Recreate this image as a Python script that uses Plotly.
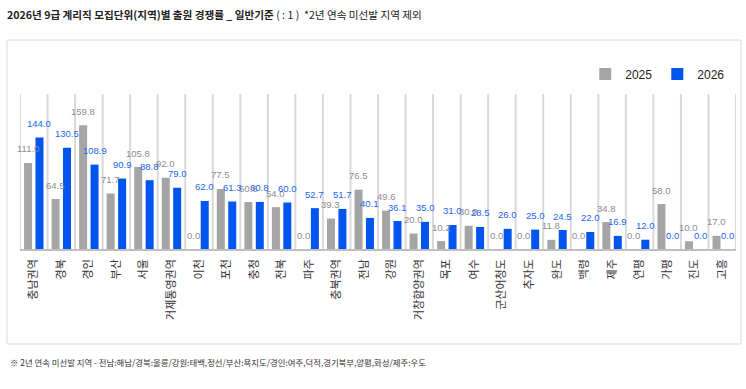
import plotly.graph_objects as go

categories = ["충남권역", "경북", "경인", "부산", "서울", "거제통영권역", "이천", "포천", "충청", "전북",
              "파주", "충북권역", "전남", "강원", "거창함양권역", "목포", "여수", "군산어청도", "추자도", "완도",
              "백령", "제주", "연평", "가평", "진도", "고흥"]
rate_2025 = [111.0, 64.5, 159.8, 71.7, 105.8, 92.0, 0.0, 77.5, 60.6, 54.0,
             0.0, 39.3, 76.5, 49.6, 20.0, 10.2, 30.0, 0.0, 0.0, 11.8,
             0.0, 34.8, 0.0, 58.0, 10.0, 17.0]
rate_2026 = [144.0, 130.5, 108.9, 90.9, 88.8, 79.0, 62.0, 61.3, 60.8, 60.0,
             52.7, 51.7, 40.1, 36.1, 35.0, 31.0, 28.5, 26.0, 25.0, 24.5,
             22.0, 16.9, 12.0, 0.0, 0.0, 0.0]
series_names = ["2025", "2026"]

GRAY = "#a5a5a5"
BLUE = "#0055ee"
KR = "Noto Sans CJK KR"
Y_MAX = 200

fig = go.Figure()
fig.add_trace(go.Bar(x=categories, y=rate_2025, name=series_names[0], marker_color=GRAY,
                     marker_line_width=0))
fig.add_trace(go.Bar(x=categories, y=rate_2026, name=series_names[1], marker_color=BLUE,
                     marker_line_width=0))

annotations = []
for cat, v in zip(categories, rate_2025):
    annotations.append(dict(x=cat, y=v, xref="x", yref="y", text=f"{v:.1f}", showarrow=False,
                            xshift=-5.7, yshift=14, yanchor="middle",
                            font=dict(family="Liberation Sans", size=9.5, color="#8c8c8c")))
for cat, v in zip(categories, rate_2026):
    annotations.append(dict(x=cat, y=v, xref="x", yref="y", text=f"{v:.1f}", showarrow=False,
                            xshift=5.7, yshift=14, yanchor="middle",
                            font=dict(family="Liberation Sans", size=9.5, color="#1a66f0")))

annotations.append(dict(xref="paper", yref="paper", x=-0.0165, y=-0.729, xanchor="left", yanchor="middle",
                        showarrow=False,
                        text="※ 2년 연속 미선발 지역 - 전남:해남/경북:울릉/강원:태백,정선/부산:욕지도/경인:여주,덕적,경기북부,양평,화성/제주:우도",
                        font=dict(family=KR, size=8.4, color="#333333")))

# category boundary grid lines (drawn on the axis scales)
shapes = [dict(type="line", xref="x", yref="y", x0=i - 0.5, x1=i - 0.5, y0=0, y1=Y_MAX,
               line=dict(color="#d9d9d9", width=2), layer="below")
          for i in range(len(categories) + 1)]
shapes.append(dict(type="rect", xref="paper", yref="paper", x0=-0.0182, x1=1.0070, y0=-0.613, y1=1.348,
                   line=dict(color="#d9d9d9", width=1), fillcolor="rgba(0,0,0,0)", layer="above"))

fig.update_layout(
    width=746, height=389,
    margin=dict(l=20, r=10, t=94, b=140),
    paper_bgcolor="white", plot_bgcolor="rgba(0,0,0,0)",
    barmode="group", bargap=0.17, bargroupgap=0.3,
    title=dict(text="<b>2026년 9급 계리직 모집단위(지역)별 출원 경쟁률 _ 일반기준</b> ( : 1 )  *2년 연속 미선발 지역 제외",
               xref="container", yref="container", x=7/746, y=1-15/389, xanchor="left", yanchor="middle",
               font=dict(family=KR, size=10.6, color="#222222")),
    legend=dict(orientation="h", x=0.992, xanchor="right", y=1.129, yanchor="middle",
                font=dict(family="Liberation Sans", size=12, color="#222222"),
                itemwidth=30, bgcolor="rgba(0,0,0,0)"),
    xaxis=dict(type="category", showgrid=False, range=[-0.5, len(categories) - 0.5],
               ticks="", tickangle=-90, showline=True, linecolor="#bfbfbf", linewidth=1.5,
               ticklabelstandoff=4,
               tickfont=dict(family=KR, size=11, color="#333333"), fixedrange=True),
    yaxis=dict(range=[0, Y_MAX], showgrid=False, showticklabels=False, zeroline=False, ticks="",
               fixedrange=True),
    annotations=annotations,
    shapes=shapes,
)

fig.write_html("out.html")
